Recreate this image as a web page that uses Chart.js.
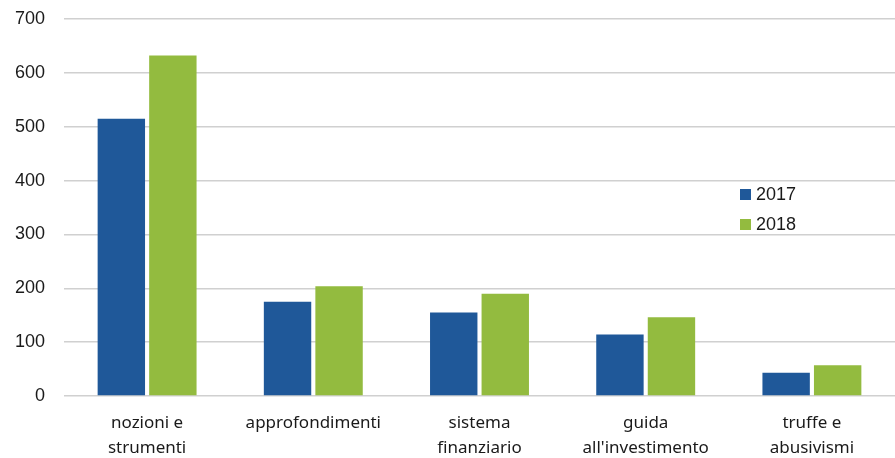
<!DOCTYPE html>
<html>
<head>
<meta charset="utf-8">
<script src="https://cdn.jsdelivr.net/npm/chart.js@4.4.0/dist/chart.umd.min.js"></script>
<style>
  html, body { margin: 0; padding: 0; background: #ffffff; }
  #wrap { width: 895px; height: 458px; }
</style>
</head>
<body>
<div id="wrap"><canvas id="chart" width="895" height="458"></canvas></div>
<script>
// Categories (multi-line labels) and yearly values
const categories = [
  ['nozioni e', 'strumenti'],
  ['approfondimenti'],
  ['sistema', 'finanziario'],
  ['guida', "all'investimento"],
  ['truffe e', 'abusivismi']
];
const values2017 = [515, 175, 155, 114, 43];
const values2018 = [632, 204, 190, 146, 57];
const seriesLabels = ['2017', '2018'];
const yTicks = [0, 100, 200, 300, 400, 500, 600, 700];

const BLUE = '#1f5899';
const GREEN = '#93bb3f';

// Legend drawn inside the plot area, on the right
const insideLegend = {
  id: 'insideLegend',
  afterDraw(chart, args, opts) {
    const ctx = chart.ctx;
    ctx.save();
    ctx.font = '18px "Liberation Sans", Arial, sans-serif';
    ctx.textBaseline = 'middle';
    ctx.textAlign = 'left';
    chart.data.datasets.forEach((ds, i) => {
      const y = opts.y + i * opts.rowGap;
      ctx.fillStyle = ds.backgroundColor;
      ctx.fillRect(opts.x, y, opts.box, opts.box);
      ctx.fillStyle = '#1a1a1a';
      ctx.fillText(ds.label, opts.x + opts.box + 5, y + opts.box / 2 + 1);
    });
    ctx.restore();
  }
};

new Chart(document.getElementById('chart'), {
  type: 'bar',
  data: {
    labels: categories,
    datasets: [
      { label: seriesLabels[0], data: values2017, backgroundColor: BLUE },
      { label: seriesLabels[1], data: values2018, backgroundColor: GREEN }
    ]
  },
  options: {
    responsive: false,
    animation: false,
    layout: { padding: { top: 19, right: 0, left: 0, bottom: 0 } },
    datasets: {
      bar: { categoryPercentage: 0.62, barPercentage: 0.92 }
    },
    plugins: {
      legend: { display: false },
      tooltip: { enabled: false },
      insideLegend: { x: 740, y: 189, box: 11, rowGap: 30 }
    },
    scales: {
      x: {
        grid: { display: false, drawTicks: false },
        border: { display: false },
        ticks: {
          color: '#1a1a1a',
          font: { family: '"Noto Sans", "Open Sans", sans-serif', size: 17, lineHeight: 1.47 },
          padding: 15,
          maxRotation: 0,
          autoSkip: false
        },
        afterFit(scale) { scale.height = 62; }
      },
      y: {
        min: 0,
        max: 700,
        afterBuildTicks(scale) { scale.ticks = yTicks.map(v => ({ value: v })); },
        grid: { color: '#d0d0d0', lineWidth: 1.5, drawTicks: false },
        border: { display: false },
        ticks: {
          color: '#1a1a1a',
          font: { family: '"Liberation Sans", Arial, sans-serif', size: 18, lineHeight: 0.5 },
          padding: 19
        },
        afterFit(scale) {
          scale.width = 64;
          scale.paddingTop = 0;
          scale.paddingBottom = 0;
        }
      }
    }
  },
  plugins: [insideLegend]
});
</script>
</body>
</html>
